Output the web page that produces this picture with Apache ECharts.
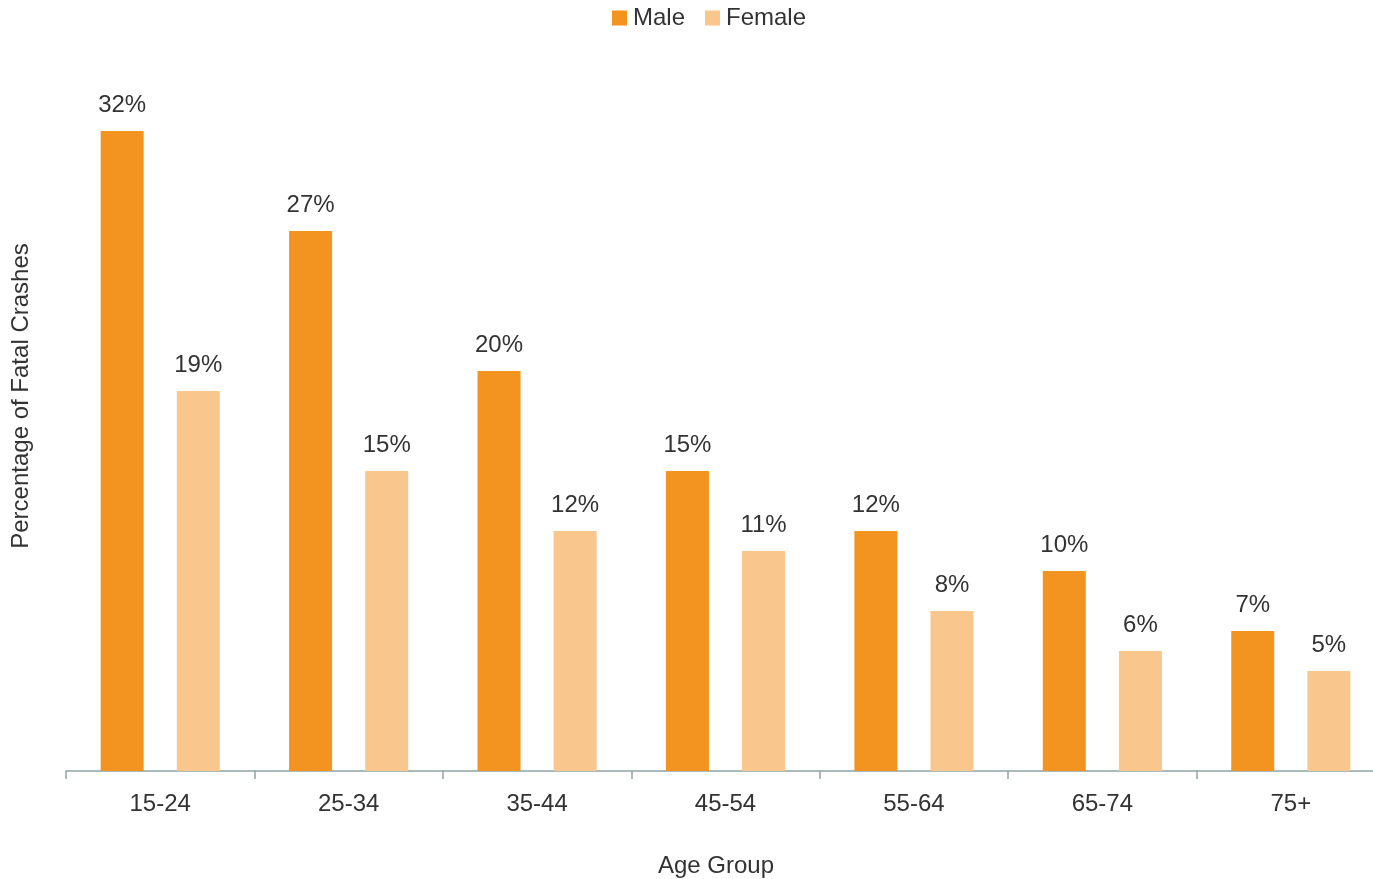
<!DOCTYPE html>
<html>
<head>
<meta charset="utf-8">
<script src="https://cdn.jsdelivr.net/npm/echarts@6/dist/echarts.min.js"></script>
<style>
  html, body { margin: 0; padding: 0; background: #ffffff; }
  #chart { width: 1373px; height: 879px; }
</style>
</head>
<body>
<div id="chart"></div>
<script>
// Share of fatal crashes by driver age group and sex
const ageGroups = ['15-24', '25-34', '35-44', '45-54', '55-64', '65-74', '75+'];
const maleShare = [32, 27, 20, 15, 12, 10, 7];
const femaleShare = [19, 15, 12, 11, 8, 6, 5];

const FONT = '"Liberation Sans", Arial, sans-serif';
const TEXT = '#333333';
const AXIS = '#8ea3a6';
const FS = 24;

const chart = echarts.init(document.getElementById('chart'), null, { renderer: 'canvas' });

const valueLabel = {
  show: true,
  position: 'top',
  distance: 14,
  formatter: '{c}%',
  color: TEXT,
  fontFamily: FONT,
  fontSize: FS
};

chart.setOption({
  animation: false,
  textStyle: { fontFamily: FONT, color: TEXT },
  legend: {
    top: 1,
    left: 607,
    itemWidth: 15,
    itemHeight: 15,
    itemGap: 20,
    icon: 'rect',
    textStyle: { fontFamily: FONT, fontSize: FS, color: TEXT, padding: [0, 0, 0, 1] },
    data: ['Male', 'Female']
  },
  // the plot runs slightly past the right edge, so the last category is clipped
  grid: { left: 66, top: 21, width: 1319, height: 750, containLabel: false, outerBoundsMode: 'none' },
  xAxis: {
    type: 'category',
    data: ageGroups,
    name: 'Age Group',
    nameLocation: 'middle',
    nameGap: 83,
    nameTextStyle: { fontFamily: FONT, fontSize: FS, color: TEXT, padding: [0, 19, 0, 0] },
    axisLine: { show: true, lineStyle: { color: AXIS, width: 1.5 } },
    axisTick: { show: true, length: 8, lineStyle: { color: AXIS, width: 1.5 } },
    axisLabel: { margin: 21, fontFamily: FONT, fontSize: FS, color: TEXT }
  },
  yAxis: {
    type: 'value',
    min: 0,
    max: 37.5,
    name: 'Percentage of Fatal Crashes',
    nameLocation: 'middle',
    nameGap: 33,
    nameTextStyle: { fontFamily: FONT, fontSize: FS, color: TEXT },
    axisLine: { show: false },
    axisTick: { show: false },
    axisLabel: { show: false },
    splitLine: { show: false }
  },
  series: [
    {
      name: 'Male',
      type: 'bar',
      data: maleShare,
      barWidth: 43,
      barGap: '77%',
      itemStyle: { color: '#f39320' },
      label: valueLabel
    },
    {
      name: 'Female',
      type: 'bar',
      data: femaleShare,
      barWidth: 43,
      itemStyle: { color: '#f9c68e' },
      label: valueLabel
    }
  ]
});
</script>
</body>
</html>
